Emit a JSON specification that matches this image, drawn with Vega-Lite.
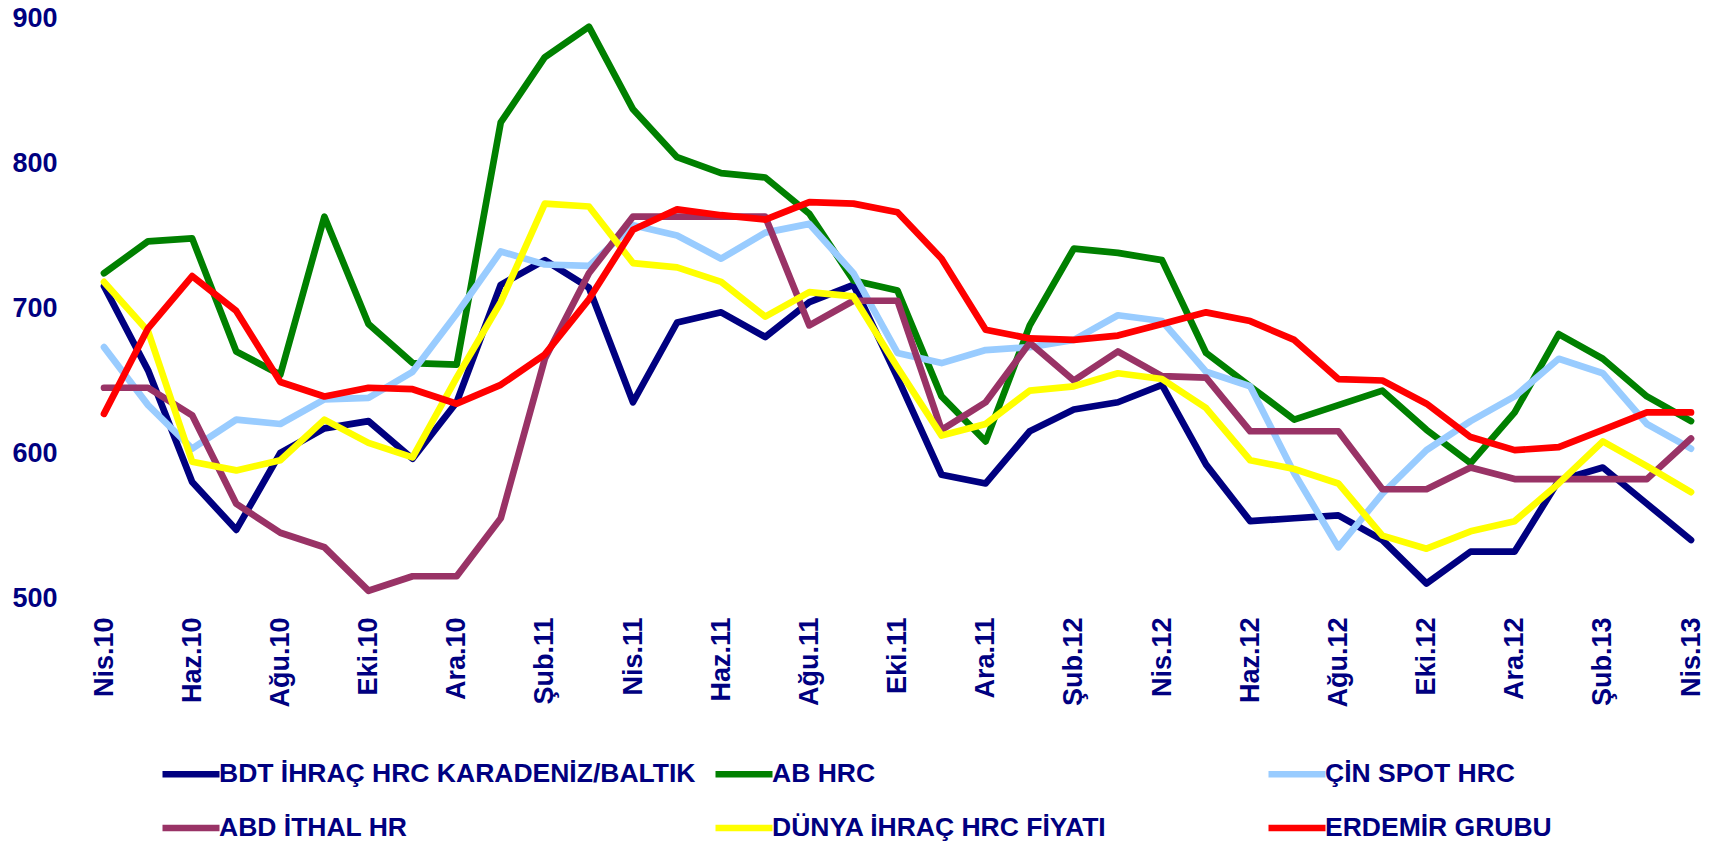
{
  "$schema": "https://vega.github.io/schema/vega-lite/v6.json",
  "width": 1587,
  "height": 580,
  "autosize": "none",
  "padding": {"left": 104, "top": 18, "right": 30, "bottom": 244},
  "background": "white",
  "config": {"view": {"stroke": null}, "font": "Liberation Sans"},
  "data": {"values": [
    {"ay":"Nis.10","seri":"BDT İHRAÇ HRC KARADENİZ/BALTIK","fiyat":715},
    {"ay":"May.10","seri":"BDT İHRAÇ HRC KARADENİZ/BALTIK","fiyat":657},
    {"ay":"Haz.10","seri":"BDT İHRAÇ HRC KARADENİZ/BALTIK","fiyat":580},
    {"ay":"Tem.10","seri":"BDT İHRAÇ HRC KARADENİZ/BALTIK","fiyat":547},
    {"ay":"Ağu.10","seri":"BDT İHRAÇ HRC KARADENİZ/BALTIK","fiyat":600},
    {"ay":"Eyl.10","seri":"BDT İHRAÇ HRC KARADENİZ/BALTIK","fiyat":617},
    {"ay":"Eki.10","seri":"BDT İHRAÇ HRC KARADENİZ/BALTIK","fiyat":622},
    {"ay":"Kas.10","seri":"BDT İHRAÇ HRC KARADENİZ/BALTIK","fiyat":596},
    {"ay":"Ara.10","seri":"BDT İHRAÇ HRC KARADENİZ/BALTIK","fiyat":635},
    {"ay":"Oca.11","seri":"BDT İHRAÇ HRC KARADENİZ/BALTIK","fiyat":716},
    {"ay":"Şub.11","seri":"BDT İHRAÇ HRC KARADENİZ/BALTIK","fiyat":733},
    {"ay":"Mar.11","seri":"BDT İHRAÇ HRC KARADENİZ/BALTIK","fiyat":714},
    {"ay":"Nis.11","seri":"BDT İHRAÇ HRC KARADENİZ/BALTIK","fiyat":635},
    {"ay":"May.11","seri":"BDT İHRAÇ HRC KARADENİZ/BALTIK","fiyat":690},
    {"ay":"Haz.11","seri":"BDT İHRAÇ HRC KARADENİZ/BALTIK","fiyat":697},
    {"ay":"Tem.11","seri":"BDT İHRAÇ HRC KARADENİZ/BALTIK","fiyat":680},
    {"ay":"Ağu.11","seri":"BDT İHRAÇ HRC KARADENİZ/BALTIK","fiyat":704},
    {"ay":"Eyl.11","seri":"BDT İHRAÇ HRC KARADENİZ/BALTIK","fiyat":716},
    {"ay":"Eki.11","seri":"BDT İHRAÇ HRC KARADENİZ/BALTIK","fiyat":652},
    {"ay":"Kas.11","seri":"BDT İHRAÇ HRC KARADENİZ/BALTIK","fiyat":585},
    {"ay":"Ara.11","seri":"BDT İHRAÇ HRC KARADENİZ/BALTIK","fiyat":579},
    {"ay":"Oca.12","seri":"BDT İHRAÇ HRC KARADENİZ/BALTIK","fiyat":615},
    {"ay":"Şub.12","seri":"BDT İHRAÇ HRC KARADENİZ/BALTIK","fiyat":630},
    {"ay":"Mar.12","seri":"BDT İHRAÇ HRC KARADENİZ/BALTIK","fiyat":635},
    {"ay":"Nis.12","seri":"BDT İHRAÇ HRC KARADENİZ/BALTIK","fiyat":647},
    {"ay":"May.12","seri":"BDT İHRAÇ HRC KARADENİZ/BALTIK","fiyat":592},
    {"ay":"Haz.12","seri":"BDT İHRAÇ HRC KARADENİZ/BALTIK","fiyat":553},
    {"ay":"Tem.12","seri":"BDT İHRAÇ HRC KARADENİZ/BALTIK","fiyat":555},
    {"ay":"Ağu.12","seri":"BDT İHRAÇ HRC KARADENİZ/BALTIK","fiyat":557},
    {"ay":"Eyl.12","seri":"BDT İHRAÇ HRC KARADENİZ/BALTIK","fiyat":540},
    {"ay":"Eki.12","seri":"BDT İHRAÇ HRC KARADENİZ/BALTIK","fiyat":510},
    {"ay":"Kas.12","seri":"BDT İHRAÇ HRC KARADENİZ/BALTIK","fiyat":532},
    {"ay":"Ara.12","seri":"BDT İHRAÇ HRC KARADENİZ/BALTIK","fiyat":532},
    {"ay":"Oca.13","seri":"BDT İHRAÇ HRC KARADENİZ/BALTIK","fiyat":581},
    {"ay":"Şub.13","seri":"BDT İHRAÇ HRC KARADENİZ/BALTIK","fiyat":590},
    {"ay":"Mar.13","seri":"BDT İHRAÇ HRC KARADENİZ/BALTIK","fiyat":565},
    {"ay":"Nis.13","seri":"BDT İHRAÇ HRC KARADENİZ/BALTIK","fiyat":540},

    {"ay":"Nis.10","seri":"AB HRC","fiyat":724},
    {"ay":"May.10","seri":"AB HRC","fiyat":746},
    {"ay":"Haz.10","seri":"AB HRC","fiyat":748},
    {"ay":"Tem.10","seri":"AB HRC","fiyat":670},
    {"ay":"Ağu.10","seri":"AB HRC","fiyat":654},
    {"ay":"Eyl.10","seri":"AB HRC","fiyat":763},
    {"ay":"Eki.10","seri":"AB HRC","fiyat":689},
    {"ay":"Kas.10","seri":"AB HRC","fiyat":662},
    {"ay":"Ara.10","seri":"AB HRC","fiyat":661},
    {"ay":"Oca.11","seri":"AB HRC","fiyat":828},
    {"ay":"Şub.11","seri":"AB HRC","fiyat":873},
    {"ay":"Mar.11","seri":"AB HRC","fiyat":894},
    {"ay":"Nis.11","seri":"AB HRC","fiyat":837},
    {"ay":"May.11","seri":"AB HRC","fiyat":804},
    {"ay":"Haz.11","seri":"AB HRC","fiyat":793},
    {"ay":"Tem.11","seri":"AB HRC","fiyat":790},
    {"ay":"Ağu.11","seri":"AB HRC","fiyat":765},
    {"ay":"Eyl.11","seri":"AB HRC","fiyat":719},
    {"ay":"Eki.11","seri":"AB HRC","fiyat":712},
    {"ay":"Kas.11","seri":"AB HRC","fiyat":639},
    {"ay":"Ara.11","seri":"AB HRC","fiyat":608},
    {"ay":"Oca.12","seri":"AB HRC","fiyat":688},
    {"ay":"Şub.12","seri":"AB HRC","fiyat":741},
    {"ay":"Mar.12","seri":"AB HRC","fiyat":738},
    {"ay":"Nis.12","seri":"AB HRC","fiyat":733},
    {"ay":"May.12","seri":"AB HRC","fiyat":669},
    {"ay":"Haz.12","seri":"AB HRC","fiyat":646},
    {"ay":"Tem.12","seri":"AB HRC","fiyat":623},
    {"ay":"Ağu.12","seri":"AB HRC","fiyat":633},
    {"ay":"Eyl.12","seri":"AB HRC","fiyat":643},
    {"ay":"Eki.12","seri":"AB HRC","fiyat":616},
    {"ay":"Kas.12","seri":"AB HRC","fiyat":593},
    {"ay":"Ara.12","seri":"AB HRC","fiyat":628},
    {"ay":"Oca.13","seri":"AB HRC","fiyat":682},
    {"ay":"Şub.13","seri":"AB HRC","fiyat":665},
    {"ay":"Mar.13","seri":"AB HRC","fiyat":639},
    {"ay":"Nis.13","seri":"AB HRC","fiyat":622},

    {"ay":"Nis.10","seri":"ÇİN SPOT HRC","fiyat":673},
    {"ay":"May.10","seri":"ÇİN SPOT HRC","fiyat":633},
    {"ay":"Haz.10","seri":"ÇİN SPOT HRC","fiyat":603},
    {"ay":"Tem.10","seri":"ÇİN SPOT HRC","fiyat":623},
    {"ay":"Ağu.10","seri":"ÇİN SPOT HRC","fiyat":620},
    {"ay":"Eyl.10","seri":"ÇİN SPOT HRC","fiyat":637},
    {"ay":"Eki.10","seri":"ÇİN SPOT HRC","fiyat":638},
    {"ay":"Kas.10","seri":"ÇİN SPOT HRC","fiyat":656},
    {"ay":"Ara.10","seri":"ÇİN SPOT HRC","fiyat":696},
    {"ay":"Oca.11","seri":"ÇİN SPOT HRC","fiyat":739},
    {"ay":"Şub.11","seri":"ÇİN SPOT HRC","fiyat":730},
    {"ay":"Mar.11","seri":"ÇİN SPOT HRC","fiyat":729},
    {"ay":"Nis.11","seri":"ÇİN SPOT HRC","fiyat":757},
    {"ay":"May.11","seri":"ÇİN SPOT HRC","fiyat":750},
    {"ay":"Haz.11","seri":"ÇİN SPOT HRC","fiyat":734},
    {"ay":"Tem.11","seri":"ÇİN SPOT HRC","fiyat":752},
    {"ay":"Ağu.11","seri":"ÇİN SPOT HRC","fiyat":758},
    {"ay":"Eyl.11","seri":"ÇİN SPOT HRC","fiyat":724},
    {"ay":"Eki.11","seri":"ÇİN SPOT HRC","fiyat":669},
    {"ay":"Kas.11","seri":"ÇİN SPOT HRC","fiyat":662},
    {"ay":"Ara.11","seri":"ÇİN SPOT HRC","fiyat":671},
    {"ay":"Oca.12","seri":"ÇİN SPOT HRC","fiyat":673},
    {"ay":"Şub.12","seri":"ÇİN SPOT HRC","fiyat":678},
    {"ay":"Mar.12","seri":"ÇİN SPOT HRC","fiyat":695},
    {"ay":"Nis.12","seri":"ÇİN SPOT HRC","fiyat":691},
    {"ay":"May.12","seri":"ÇİN SPOT HRC","fiyat":656},
    {"ay":"Haz.12","seri":"ÇİN SPOT HRC","fiyat":646},
    {"ay":"Tem.12","seri":"ÇİN SPOT HRC","fiyat":586},
    {"ay":"Ağu.12","seri":"ÇİN SPOT HRC","fiyat":535},
    {"ay":"Eyl.12","seri":"ÇİN SPOT HRC","fiyat":572},
    {"ay":"Eki.12","seri":"ÇİN SPOT HRC","fiyat":602},
    {"ay":"Kas.12","seri":"ÇİN SPOT HRC","fiyat":622},
    {"ay":"Ara.12","seri":"ÇİN SPOT HRC","fiyat":639},
    {"ay":"Oca.13","seri":"ÇİN SPOT HRC","fiyat":665},
    {"ay":"Şub.13","seri":"ÇİN SPOT HRC","fiyat":655},
    {"ay":"Mar.13","seri":"ÇİN SPOT HRC","fiyat":620},
    {"ay":"Nis.13","seri":"ÇİN SPOT HRC","fiyat":603},

    {"ay":"Nis.10","seri":"ABD İTHAL HR","fiyat":645},
    {"ay":"May.10","seri":"ABD İTHAL HR","fiyat":645},
    {"ay":"Haz.10","seri":"ABD İTHAL HR","fiyat":626},
    {"ay":"Tem.10","seri":"ABD İTHAL HR","fiyat":565},
    {"ay":"Ağu.10","seri":"ABD İTHAL HR","fiyat":545},
    {"ay":"Eyl.10","seri":"ABD İTHAL HR","fiyat":535},
    {"ay":"Eki.10","seri":"ABD İTHAL HR","fiyat":505},
    {"ay":"Kas.10","seri":"ABD İTHAL HR","fiyat":515},
    {"ay":"Ara.10","seri":"ABD İTHAL HR","fiyat":515},
    {"ay":"Oca.11","seri":"ABD İTHAL HR","fiyat":555},
    {"ay":"Şub.11","seri":"ABD İTHAL HR","fiyat":665},
    {"ay":"Mar.11","seri":"ABD İTHAL HR","fiyat":724},
    {"ay":"Nis.11","seri":"ABD İTHAL HR","fiyat":763},
    {"ay":"May.11","seri":"ABD İTHAL HR","fiyat":763},
    {"ay":"Haz.11","seri":"ABD İTHAL HR","fiyat":763},
    {"ay":"Tem.11","seri":"ABD İTHAL HR","fiyat":763},
    {"ay":"Ağu.11","seri":"ABD İTHAL HR","fiyat":688},
    {"ay":"Eyl.11","seri":"ABD İTHAL HR","fiyat":705},
    {"ay":"Eki.11","seri":"ABD İTHAL HR","fiyat":705},
    {"ay":"Kas.11","seri":"ABD İTHAL HR","fiyat":616},
    {"ay":"Ara.11","seri":"ABD İTHAL HR","fiyat":635},
    {"ay":"Oca.12","seri":"ABD İTHAL HR","fiyat":676},
    {"ay":"Şub.12","seri":"ABD İTHAL HR","fiyat":650},
    {"ay":"Mar.12","seri":"ABD İTHAL HR","fiyat":670},
    {"ay":"Nis.12","seri":"ABD İTHAL HR","fiyat":653},
    {"ay":"May.12","seri":"ABD İTHAL HR","fiyat":652},
    {"ay":"Haz.12","seri":"ABD İTHAL HR","fiyat":615},
    {"ay":"Tem.12","seri":"ABD İTHAL HR","fiyat":615},
    {"ay":"Ağu.12","seri":"ABD İTHAL HR","fiyat":615},
    {"ay":"Eyl.12","seri":"ABD İTHAL HR","fiyat":575},
    {"ay":"Eki.12","seri":"ABD İTHAL HR","fiyat":575},
    {"ay":"Kas.12","seri":"ABD İTHAL HR","fiyat":590},
    {"ay":"Ara.12","seri":"ABD İTHAL HR","fiyat":582},
    {"ay":"Oca.13","seri":"ABD İTHAL HR","fiyat":582},
    {"ay":"Şub.13","seri":"ABD İTHAL HR","fiyat":582},
    {"ay":"Mar.13","seri":"ABD İTHAL HR","fiyat":582},
    {"ay":"Nis.13","seri":"ABD İTHAL HR","fiyat":610},

    {"ay":"Nis.10","seri":"DÜNYA İHRAÇ HRC FİYATI","fiyat":718},
    {"ay":"May.10","seri":"DÜNYA İHRAÇ HRC FİYATI","fiyat":684},
    {"ay":"Haz.10","seri":"DÜNYA İHRAÇ HRC FİYATI","fiyat":594},
    {"ay":"Tem.10","seri":"DÜNYA İHRAÇ HRC FİYATI","fiyat":588},
    {"ay":"Ağu.10","seri":"DÜNYA İHRAÇ HRC FİYATI","fiyat":595},
    {"ay":"Eyl.10","seri":"DÜNYA İHRAÇ HRC FİYATI","fiyat":623},
    {"ay":"Eki.10","seri":"DÜNYA İHRAÇ HRC FİYATI","fiyat":607},
    {"ay":"Kas.10","seri":"DÜNYA İHRAÇ HRC FİYATI","fiyat":597},
    {"ay":"Ara.10","seri":"DÜNYA İHRAÇ HRC FİYATI","fiyat":652},
    {"ay":"Oca.11","seri":"DÜNYA İHRAÇ HRC FİYATI","fiyat":704},
    {"ay":"Şub.11","seri":"DÜNYA İHRAÇ HRC FİYATI","fiyat":772},
    {"ay":"Mar.11","seri":"DÜNYA İHRAÇ HRC FİYATI","fiyat":770},
    {"ay":"Nis.11","seri":"DÜNYA İHRAÇ HRC FİYATI","fiyat":731},
    {"ay":"May.11","seri":"DÜNYA İHRAÇ HRC FİYATI","fiyat":728},
    {"ay":"Haz.11","seri":"DÜNYA İHRAÇ HRC FİYATI","fiyat":718},
    {"ay":"Tem.11","seri":"DÜNYA İHRAÇ HRC FİYATI","fiyat":694},
    {"ay":"Ağu.11","seri":"DÜNYA İHRAÇ HRC FİYATI","fiyat":711},
    {"ay":"Eyl.11","seri":"DÜNYA İHRAÇ HRC FİYATI","fiyat":708},
    {"ay":"Eki.11","seri":"DÜNYA İHRAÇ HRC FİYATI","fiyat":659},
    {"ay":"Kas.11","seri":"DÜNYA İHRAÇ HRC FİYATI","fiyat":612},
    {"ay":"Ara.11","seri":"DÜNYA İHRAÇ HRC FİYATI","fiyat":620},
    {"ay":"Oca.12","seri":"DÜNYA İHRAÇ HRC FİYATI","fiyat":643},
    {"ay":"Şub.12","seri":"DÜNYA İHRAÇ HRC FİYATI","fiyat":646},
    {"ay":"Mar.12","seri":"DÜNYA İHRAÇ HRC FİYATI","fiyat":655},
    {"ay":"Nis.12","seri":"DÜNYA İHRAÇ HRC FİYATI","fiyat":651},
    {"ay":"May.12","seri":"DÜNYA İHRAÇ HRC FİYATI","fiyat":631},
    {"ay":"Haz.12","seri":"DÜNYA İHRAÇ HRC FİYATI","fiyat":595},
    {"ay":"Tem.12","seri":"DÜNYA İHRAÇ HRC FİYATI","fiyat":589},
    {"ay":"Ağu.12","seri":"DÜNYA İHRAÇ HRC FİYATI","fiyat":579},
    {"ay":"Eyl.12","seri":"DÜNYA İHRAÇ HRC FİYATI","fiyat":543},
    {"ay":"Eki.12","seri":"DÜNYA İHRAÇ HRC FİYATI","fiyat":534},
    {"ay":"Kas.12","seri":"DÜNYA İHRAÇ HRC FİYATI","fiyat":546},
    {"ay":"Ara.12","seri":"DÜNYA İHRAÇ HRC FİYATI","fiyat":553},
    {"ay":"Oca.13","seri":"DÜNYA İHRAÇ HRC FİYATI","fiyat":579},
    {"ay":"Şub.13","seri":"DÜNYA İHRAÇ HRC FİYATI","fiyat":608},
    {"ay":"Mar.13","seri":"DÜNYA İHRAÇ HRC FİYATI","fiyat":591},
    {"ay":"Nis.13","seri":"DÜNYA İHRAÇ HRC FİYATI","fiyat":573},

    {"ay":"Nis.10","seri":"ERDEMİR GRUBU","fiyat":627},
    {"ay":"May.10","seri":"ERDEMİR GRUBU","fiyat":686},
    {"ay":"Haz.10","seri":"ERDEMİR GRUBU","fiyat":722},
    {"ay":"Tem.10","seri":"ERDEMİR GRUBU","fiyat":698},
    {"ay":"Ağu.10","seri":"ERDEMİR GRUBU","fiyat":649},
    {"ay":"Eyl.10","seri":"ERDEMİR GRUBU","fiyat":639},
    {"ay":"Eki.10","seri":"ERDEMİR GRUBU","fiyat":645},
    {"ay":"Kas.10","seri":"ERDEMİR GRUBU","fiyat":644},
    {"ay":"Ara.10","seri":"ERDEMİR GRUBU","fiyat":634},
    {"ay":"Oca.11","seri":"ERDEMİR GRUBU","fiyat":647},
    {"ay":"Şub.11","seri":"ERDEMİR GRUBU","fiyat":668},
    {"ay":"Mar.11","seri":"ERDEMİR GRUBU","fiyat":706},
    {"ay":"Nis.11","seri":"ERDEMİR GRUBU","fiyat":754},
    {"ay":"May.11","seri":"ERDEMİR GRUBU","fiyat":768},
    {"ay":"Haz.11","seri":"ERDEMİR GRUBU","fiyat":764},
    {"ay":"Tem.11","seri":"ERDEMİR GRUBU","fiyat":761},
    {"ay":"Ağu.11","seri":"ERDEMİR GRUBU","fiyat":773},
    {"ay":"Eyl.11","seri":"ERDEMİR GRUBU","fiyat":772},
    {"ay":"Eki.11","seri":"ERDEMİR GRUBU","fiyat":766},
    {"ay":"Kas.11","seri":"ERDEMİR GRUBU","fiyat":734},
    {"ay":"Ara.11","seri":"ERDEMİR GRUBU","fiyat":685},
    {"ay":"Oca.12","seri":"ERDEMİR GRUBU","fiyat":679},
    {"ay":"Şub.12","seri":"ERDEMİR GRUBU","fiyat":678},
    {"ay":"Mar.12","seri":"ERDEMİR GRUBU","fiyat":681},
    {"ay":"Nis.12","seri":"ERDEMİR GRUBU","fiyat":689},
    {"ay":"May.12","seri":"ERDEMİR GRUBU","fiyat":697},
    {"ay":"Haz.12","seri":"ERDEMİR GRUBU","fiyat":691},
    {"ay":"Tem.12","seri":"ERDEMİR GRUBU","fiyat":678},
    {"ay":"Ağu.12","seri":"ERDEMİR GRUBU","fiyat":651},
    {"ay":"Eyl.12","seri":"ERDEMİR GRUBU","fiyat":650},
    {"ay":"Eki.12","seri":"ERDEMİR GRUBU","fiyat":634},
    {"ay":"Kas.12","seri":"ERDEMİR GRUBU","fiyat":611},
    {"ay":"Ara.12","seri":"ERDEMİR GRUBU","fiyat":602},
    {"ay":"Oca.13","seri":"ERDEMİR GRUBU","fiyat":604},
    {"ay":"Şub.13","seri":"ERDEMİR GRUBU","fiyat":616},
    {"ay":"Mar.13","seri":"ERDEMİR GRUBU","fiyat":628},
    {"ay":"Nis.13","seri":"ERDEMİR GRUBU","fiyat":628}
  ]},
  "mark": {"type": "line", "strokeWidth": 6.7, "strokeCap": "round", "strokeJoin": "round"},
  "encoding": {
    "x": {
      "field": "ay", "type": "ordinal", "sort": null,
      "scale": {"type": "point", "padding": 0},
      "axis": {
        "title": null,
        "values": ["Nis.10","Haz.10","Ağu.10","Eki.10","Ara.10","Şub.11","Nis.11","Haz.11","Ağu.11","Eki.11","Ara.11","Şub.12","Nis.12","Haz.12","Ağu.12","Eki.12","Ara.12","Şub.13","Nis.13"],
        "labelAngle": -90, "labelFont": "Liberation Sans", "labelFontSize": 27, "labelFontWeight": "bold",
        "labelColor": "#000080", "labelPadding": 19, "labelOverlap": false,
        "ticks": false, "domain": false, "grid": false
      }
    },
    "y": {
      "field": "fiyat", "type": "quantitative",
      "scale": {"domain": [500, 900], "nice": false, "zero": false},
      "axis": {
        "title": null, "values": [500, 600, 700, 800, 900],
        "labelFont": "Liberation Sans", "labelFontSize": 27, "labelFontWeight": "bold",
        "labelColor": "#000080", "labelPadding": 47,
        "ticks": false, "domain": false, "grid": false
      }
    },
    "color": {
      "field": "seri", "type": "nominal",
      "scale": {
        "domain": ["BDT İHRAÇ HRC KARADENİZ/BALTIK", "AB HRC", "ÇİN SPOT HRC", "ABD İTHAL HR", "DÜNYA İHRAÇ HRC FİYATI", "ERDEMİR GRUBU"],
        "range": ["#000080", "#008000", "#99CCFF", "#993366", "#FFFF00", "#FF0000"]
      },
      "legend": {
        "title": null, "orient": "none", "legendX": 55, "legendY": 724,
        "direction": "horizontal",
        "columns": 3, "gridAlign": "all", "columnPadding": 6, "rowPadding": 8,
        "symbolType": "stroke", "symbolSize": 3249, "symbolStrokeWidth": 6.7,
        "labelFont": "Liberation Sans", "labelFontSize": 26.5, "labelFontWeight": "bold",
        "labelColor": "#000080", "labelOffset": -4, "labelLimit": 0
      }
    }
  }
}
